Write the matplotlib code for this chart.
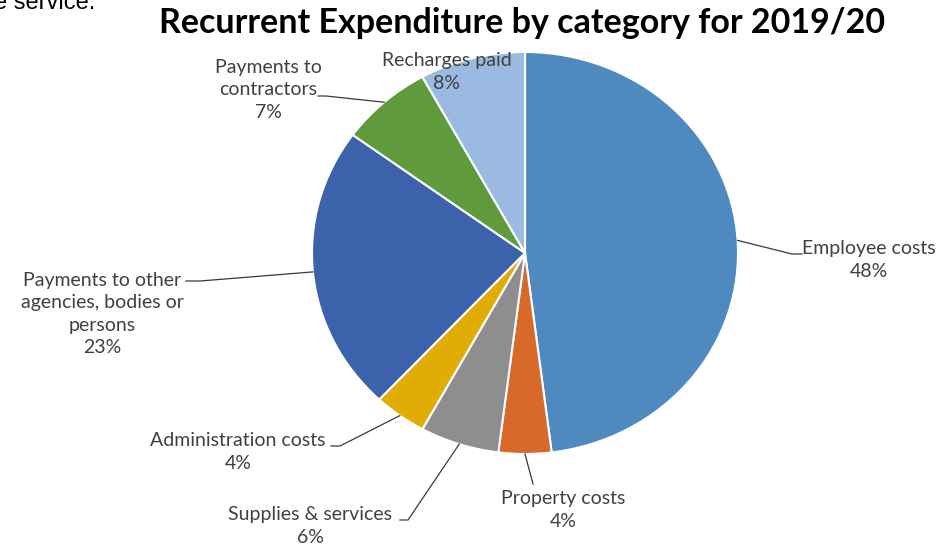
import numpy as np
import matplotlib.pyplot as plt

# recurrent expenditure shares, clockwise from 12 o'clock
categories = ['Employee costs', 'Property costs', 'Supplies & services',
              'Administration costs', 'Payments to other\nagencies, bodies or\npersons',
              'Payments to\ncontractors', 'Recharges paid']
shares = [48, 4, 6, 4, 23, 7, 8]
colors = ['#4E89BF', '#D9692B', '#8E8E8E', '#E2AC06', '#3B62AA', '#5F9B3D', '#9BBAE1']

W, H = 947, 544
RX, RY = 213, 201          # pie is slightly stretched horizontally
KY = RX / RY


def to_data(px, py):
    # pixel position (from top-left) -> axes data units
    return px, (H - py) * KY


fig = plt.figure(figsize=(W / 100, H / 100), dpi=100)
ax = fig.add_axes([0, 0, 1, 1])

center = to_data(525, 253)
wedges, _ = ax.pie(shares, colors=colors, startangle=90, counterclock=False,
                   center=center, radius=RX,
                   wedgeprops=dict(edgecolor='white', linewidth=1.5))
ax.set_aspect('auto')
ax.set_xlim(0, W)
ax.set_ylim(0, H * KY)
ax.axis('off')

# label layout: text centre (px), leader start at text end, elbow point
label_layout = [
    ((869, 260), (802, 254), (792, 254)),
    ((563, 510), (533, 484), None),
    ((310, 526), (400, 520), (408, 520)),
    ((238, 452), (331, 446), (340, 446)),
    ((102, 314), (186, 281), (200, 281)),
    ((268, 90), (318, 96), (326, 96)),
    ((447, 72), None, None),
]

txt_color = '#404040'
for w, name, val, (tpos, start, elbow) in zip(wedges, categories, shares, label_layout):
    tx, ty = to_data(*tpos)
    ax.text(tx, ty, f'{name}\n{val}%', ha='center', va='center',
            fontsize=14, family='Lato', color=txt_color, linespacing=1.37)
    if start is None:
        continue
    mid = np.deg2rad((w.theta1 + w.theta2) / 2)
    anchor = (center[0] + RX * np.cos(mid), center[1] + RX * np.sin(mid))
    pts = [to_data(*start)]
    if elbow is not None:
        pts.append(to_data(*elbow))
    pts.append(anchor)
    xs, ys = zip(*pts)
    ax.plot(xs, ys, color='#3a3a3a', linewidth=0.9)

tx, ty = to_data(522, 23)
ax.text(tx, ty, 'Recurrent Expenditure by category for 2019/20', ha='center', va='center',
        fontsize=24.5, fontweight='bold', family='Lato', color='black')

# cut-off line of surrounding document text
tx, ty = to_data(-6, 9)
ax.text(tx, ty, 'e service.', ha='left', va='baseline', fontsize=17,
        family='Liberation Sans', color='black')

fig.savefig('out.png', dpi=100, facecolor='white')
